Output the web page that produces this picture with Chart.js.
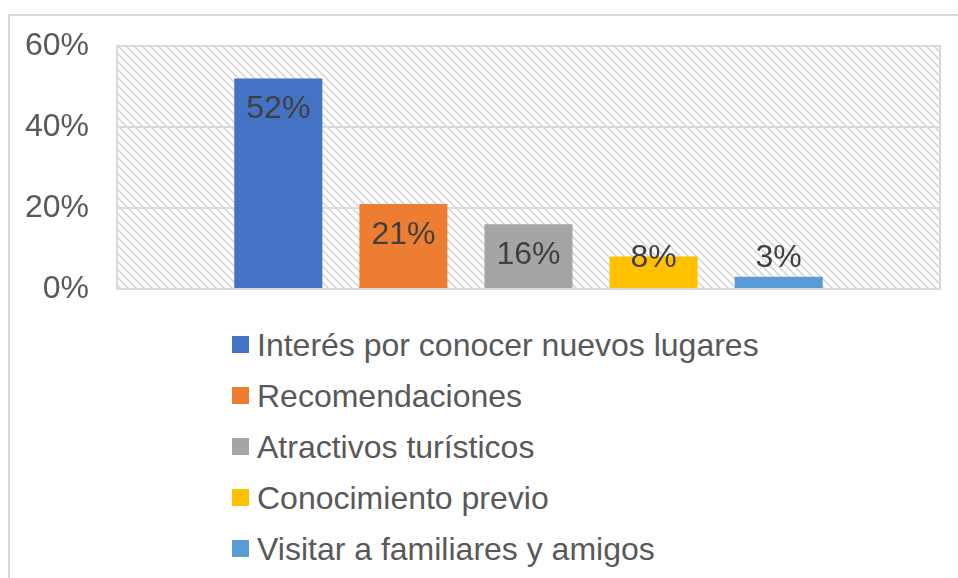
<!DOCTYPE html>
<html>
<head>
<meta charset="utf-8">
<script src="https://cdn.jsdelivr.net/npm/chart.js@4.4.0/dist/chart.umd.min.js"></script>
<style>
  html, body { margin: 0; padding: 0; background: #fff; }
  #wrap { position: relative; width: 958px; height: 578px; overflow: hidden; font-family: "Liberation Sans", Arial, sans-serif; }
  #frame { position: absolute; left: 8px; top: 14px; width: 960px; height: 580px; border-left: 2px solid #d9d9d9; border-top: 2px solid #d9d9d9; }
  #chartBox { position: absolute; left: 0; top: 0; width: 958px; height: 310px; }
  #legend { position: absolute; left: 232px; top: 320px; margin: 0; padding: 0; list-style: none; }
  #legend li { height: 51px; line-height: 51px; font-size: 32px; color: #595959; white-space: nowrap; }
  #legend span.box { display: inline-block; width: 17px; height: 17px; margin-right: 8px; vertical-align: middle; position: relative; top: -3px; }
</style>
</head>
<body>
<div id="wrap">
  <div id="frame"></div>
  <div id="chartBox"><canvas id="motivosChart"></canvas></div>
  <ul id="legend"></ul>
</div>
<script>
const seriesNames = [
    "Interés por conocer nuevos lugares",
    "Recomendaciones",
    "Atractivos turísticos",
    "Conocimiento previo",
    "Visitar a familiares y amigos"
];
const seriesValues = [52, 21, 16, 8, 3];
const seriesColors = ["#4472C4", "#ED7D31", "#A5A5A5", "#FFC000", "#5B9BD5"];
const yTicks = [0, 20, 40, 60];

document.addEventListener("DOMContentLoaded", function () {
    // diagonal hatch for the plot background
    const pc = document.createElement("canvas");
    pc.width = 8;
    pc.height = 8;
    const px = pc.getContext("2d");
    px.strokeStyle = "#d6d6d6";
    px.lineWidth = 1.6;
    px.beginPath();
    px.moveTo(-2, -2); px.lineTo(10, 10);
    px.moveTo(-2, 6); px.lineTo(2, 10);
    px.moveTo(6, -2); px.lineTo(10, 2);
    px.stroke();

    const plotBackground = {
        id: "plotBackground",
        beforeDraw(chart) {
            const a = chart.chartArea;
            const ctx = chart.ctx;
            ctx.save();
            ctx.fillStyle = ctx.createPattern(pc, "repeat");
            ctx.fillRect(a.left, a.top, a.right - a.left, a.bottom - a.top);
            ctx.restore();
        },
        afterDatasetsDraw(chart) {
            const a = chart.chartArea;
            const ctx = chart.ctx;
            ctx.save();
            ctx.strokeStyle = "#d9d9d9";
            ctx.lineWidth = 2;
            ctx.strokeRect(a.left, a.top, a.right - a.left, a.bottom - a.top);
            ctx.restore();
        }
    };

    const barLabels = {
        id: "barLabels",
        afterDatasetsDraw(chart) {
            const ctx = chart.ctx;
            ctx.save();
            ctx.font = "32px 'Liberation Sans', Arial, sans-serif";
            ctx.fillStyle = "#404040";
            ctx.textAlign = "center";
            ctx.textBaseline = "middle";
            chart.data.datasets.forEach(function (ds, i) {
                const bar = chart.getDatasetMeta(i).data[0];
                const y = Math.min(bar.y + 31, bar.base - 30);
                ctx.fillText(ds.data[0] + "%", bar.x, y);
            });
            ctx.restore();
        }
    };

    const ctx = document.getElementById("motivosChart");
    new Chart(ctx, {
        type: "bar",
        data: {
            labels: [""],
            datasets: seriesNames.map(function (name, i) {
                return {
                    label: name,
                    data: [seriesValues[i]],
                    backgroundColor: seriesColors[i],
                    categoryPercentage: 0.76,
                    barPercentage: 0.704
                };
            })
        },
        options: {
            responsive: true,
            maintainAspectRatio: false,
            animation: false,
            layout: { padding: { top: 46, right: 18, bottom: 21, left: 0 } },
            plugins: { legend: { display: false }, tooltip: { enabled: false } },
            scales: {
                x: { display: false },
                y: {
                    min: 0,
                    max: 60,
                    afterFit: function (scale) { scale.width = 117; },
                    afterBuildTicks: function (scale) {
                        scale.ticks = yTicks.map(function (v) { return { value: v }; });
                    },
                    ticks: {
                        padding: 0,
                        color: "#595959",
                        font: { size: 32, family: "'Liberation Sans', Arial, sans-serif" },
                        callback: function (v) { return v + "%"; }
                    },
                    grid: { color: "#d9d9d9", lineWidth: 2, drawTicks: true, tickLength: 28, tickColor: "rgba(0,0,0,0)" },
                    border: { display: false }
                }
            }
        },
        plugins: [plotBackground, barLabels]
    });

    const legend = document.getElementById("legend");
    seriesNames.forEach(function (name, i) {
        const li = document.createElement("li");
        const box = document.createElement("span");
        box.className = "box";
        box.style.background = seriesColors[i];
        li.appendChild(box);
        li.appendChild(document.createTextNode(name));
        legend.appendChild(li);
    });
});
</script>
</body>
</html>
